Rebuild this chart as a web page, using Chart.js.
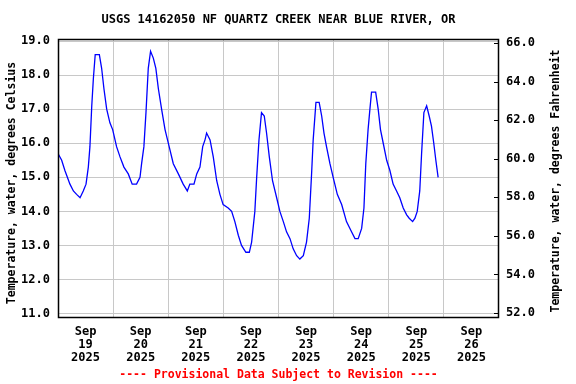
<!DOCTYPE html>
<html>
<head>
<meta charset="utf-8">
<script src="https://cdn.jsdelivr.net/npm/chart.js@4/dist/chart.umd.min.js"></script>
<style>
html,body{margin:0;padding:0;background:#fff;}
canvas{display:block;}
</style>
</head>
<body>
<canvas id="c" width="576" height="384"></canvas>
<script>
// ---- data (hours since 2025-09-19 00:00, water temperature in deg C) ----
const hours = [0,1.6,3.0,5.2,6.7,8.1,9.6,11.0,12.2,13.2,13.9,14.7,15.4,16.2,18.0,19.0,20.0,21.2,22.6,23.8,
25.5,27.0,28.7,30.6,32.3,34.2,35.7,36.4,37.4,38.3,39.3,40.3,41.5,42.6,43.7,45.1,46.6,48.4,50.2,52.4,
54.5,56.3,57.4,59.2,60.4,61.8,63.0,64.0,64.7,66.2,67.6,69.1,70.5,71.9,74.1,75.6,77.0,78.5,79.9,81.8,
83.3,84.3,85.7,86.5,87.5,88.6,89.8,90.8,92.0,93.4,95.2,96.6,98.1,99.5,101.0,102.4,103.9,105.3,106.8,108.2,
109.4,110.4,111.1,112.3,113.7,114.8,115.8,116.9,118.4,119.8,121.6,123.5,125.6,127.8,129.3,130.7,132.2,133.2,134.0,135.0,
135.8,136.5,138.3,139.4,140.4,141.6,143.1,144.5,145.9,147.4,148.8,150.3,151.8,152.9,154.4,155.4,156.4,157.5,158.3,159.3,
160.5,161.6,162.6,163.6,164.5,165.5];
const tempC = [15.7,15.5,15.2,14.8,14.6,14.5,14.4,14.6,14.8,15.3,15.9,17.1,17.9,18.6,18.6,18.2,17.6,17.0,16.6,16.4,
15.9,15.6,15.3,15.1,14.8,14.8,15.0,15.4,15.9,16.9,18.2,18.7,18.5,18.2,17.6,17.0,16.4,15.9,15.4,15.1,
14.8,14.6,14.8,14.8,15.1,15.3,15.9,16.1,16.3,16.1,15.6,14.9,14.5,14.2,14.1,14.0,13.7,13.3,13.0,12.8,
12.8,13.1,14.0,15.0,16.1,16.9,16.8,16.3,15.6,14.9,14.4,14.0,13.7,13.4,13.2,12.9,12.7,12.6,12.7,13.1,
13.8,15.1,16.1,17.2,17.2,16.8,16.3,15.9,15.4,15.0,14.5,14.2,13.7,13.4,13.2,13.2,13.5,14.1,15.4,16.4,
17.0,17.5,17.5,17.0,16.4,16.0,15.5,15.2,14.8,14.6,14.4,14.1,13.9,13.8,13.7,13.8,14.0,14.6,15.7,16.9,
17.1,16.8,16.5,16.0,15.5,15.0];
const dayMonth = 'Sep';
const dayNumbers = ['19','20','21','22','23','24','25','26'];
const dayYear = '2025';
const ticksC = [11,12,13,14,15,16,17,18,19];
const ticksF = [52,54,56,58,60,62,64,66];
const titleText = 'USGS 14162050 NF QUARTZ CREEK NEAR BLUE RIVER, OR';
const leftTitle = 'Temperature, water, degrees Celsius';
const rightTitle = 'Temperature, water, degrees Fahrenheit';
const footerText = '---- Provisional Data Subject to Revision ----';

const FONT = '"DejaVu Sans Mono", monospace';
const AREA = {left:58, top:39, right:499, bottom:317};

const decor = {
  id:'decor',
  afterDraw(chart){
    const ctx = chart.ctx, a = chart.chartArea;
    ctx.save();
    // frame
    ctx.strokeStyle = '#000'; ctx.lineWidth = 1.5;
    ctx.strokeRect(a.left+0.5, a.top+0.5, a.right-a.left-1, a.bottom-a.top);
    // inward ticks on right axis
    const yr = chart.scales.yF;
    ctx.lineWidth = 1;
    ctx.beginPath();
    ticksF.forEach(v=>{ const y = Math.round(yr.getPixelForValue(v))+0.5; ctx.moveTo(a.right-5,y); ctx.lineTo(a.right,y); });
    ctx.stroke();
    // title
    ctx.fillStyle = '#000';
    ctx.font = 'bold 12px '+FONT;
    ctx.textAlign = 'center'; ctx.textBaseline = 'middle';
    ctx.fillText(titleText, (a.left+a.right)/2, 20);
    // axis titles
    ctx.font = 'bold 11.5px '+FONT;
    ctx.save(); ctx.translate(12, 183); ctx.rotate(-Math.PI/2); ctx.fillText(leftTitle,0,0); ctx.restore();
    ctx.save(); ctx.translate(556, 181); ctx.rotate(-Math.PI/2); ctx.fillText(rightTitle,0,0); ctx.restore();
    // footer
    ctx.fillStyle = '#ff0000';
    ctx.font = 'bold 11.5px '+FONT;
    ctx.fillText(footerText, (a.left+a.right)/2, 375);
    ctx.restore();
  }
};

new Chart(document.getElementById('c'), {
  type:'line',
  data:{
    datasets:[{
      data: hours.map((h,i)=>({x:h, y:tempC[i]})),
      borderColor:'#0000ff', borderWidth:1.3, pointRadius:0, tension:0, fill:false, yAxisID:'yC'
    }]
  },
  options:{
    responsive:false, animation:false, devicePixelRatio:1,
    layout:{padding:{top:AREA.top, left:0, right:0, bottom:0}},
    plugins:{legend:{display:false}, tooltip:{enabled:false}, title:{display:false}},
    scales:{
      x:{
        type:'linear', position:'bottom', min:0, max:192,
        afterBuildTicks(s){ const t=[]; for(let i=0;i<=16;i++) t.push({value:i*12}); s.ticks=t; },
        afterFit(s){ s.height = 384-AREA.bottom; },
        grid:{ drawTicks:false, color:(c)=>{ const v=c.tick&&c.tick.value; return (v%24===0 && v>0 && v<192)?'#c8c8c8':'rgba(0,0,0,0)'; }, lineWidth:1 },
        border:{display:false},
        ticks:{
          autoSkip:false, maxRotation:0, minRotation:0, padding:8, color:'#000',
          font:{family:FONT, size:12, weight:'bold', lineHeight:1.08},
          callback:(v)=>{ if(v%24===12){ const d=Math.floor(v/24); return [dayMonth, dayNumbers[d], dayYear]; } return ''; }
        }
      },
      yC:{
        type:'linear', position:'left', min:10.9, max:19.06,
        afterBuildTicks(s){ s.ticks = ticksC.map(v=>({value:v})); },
        afterFit(s){ s.width = AREA.left; },
        grid:{ drawTicks:false, color:'#c8c8c8', lineWidth:1 },
        border:{display:false},
        ticks:{ padding:8, color:'#000', font:{family:FONT, size:12, weight:'bold'}, callback:(v)=>Number(v).toFixed(1) }
      },
      yF:{
        type:'linear', position:'right', min:51.79, max:66.22,
        afterBuildTicks(s){ s.ticks = ticksF.map(v=>({value:v})); },
        afterFit(s){ s.width = 576-AREA.right; },
        grid:{ drawTicks:false, drawOnChartArea:false },
        border:{display:false},
        ticks:{ padding:7, color:'#000', font:{family:FONT, size:12, weight:'bold'}, callback:(v)=>Number(v).toFixed(1) }
      }
    }
  },
  plugins:[decor]
});
</script>
</body>
</html>
